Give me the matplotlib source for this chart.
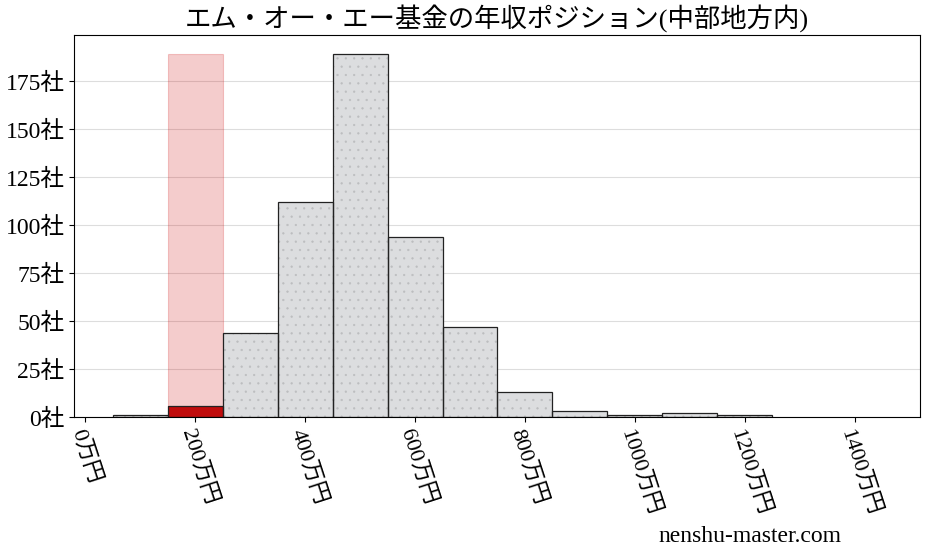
import numpy as np
import matplotlib
matplotlib.use('Agg')
import matplotlib.pyplot as plt

plt.rcParams['font.family'] = ['Liberation Serif', 'Noto Sans CJK JP', 'DejaVu Sans']
plt.rcParams['hatch.linewidth'] = 0.4

# bins of 100万円 centred on each 100
bin_left = [50, 150, 250, 350, 450, 550, 650, 750, 850, 950, 1050, 1150]
counts = [1, 6, 44, 112, 189, 94, 47, 13, 3, 1, 2, 1]
hl_index = 1  # the company's bin
xticks = [0, 200, 400, 600, 800, 1000, 1200, 1400]
yticks = [0, 25, 50, 75, 100, 125, 150, 175]
title = 'エム・オー・エー基金の年収ポジション(中部地方内)'

fig = plt.figure(figsize=(9.28, 5.57), dpi=100)
ax = fig.add_axes([0.080, 0.251, 0.911, 0.686])

# faint dotted grey fill, then black outline on top
ax.bar(bin_left, counts, width=100, align='edge', color='#dcdddf',
       edgecolor='#bcbdbf', linewidth=0, hatch='..', zorder=2)
ax.bar(bin_left[hl_index], counts[hl_index], width=100, align='edge',
       color='#c00c0c', linewidth=0, zorder=2.5)
ax.bar(bin_left, counts, width=100, align='edge', fill=False,
       edgecolor='#222222', linewidth=0.9, zorder=3)
ax.bar(bin_left[hl_index], max(counts), width=100, align='edge',
       color='#cc0000', alpha=0.2, edgecolor='#cc0000', linewidth=0.8, zorder=1)

ax.set_xlim(-20, 1518)
ax.set_ylim(0, 199)
ax.set_xticks(xticks)
ax.set_xticklabels([f'{v}万円' for v in xticks], rotation=-72, ha='left',
                   rotation_mode='anchor', fontsize=16)
ax.set_yticks(yticks)
ax.set_yticklabels([f'{v}社' for v in yticks], fontsize=17)
ax.grid(axis='y', color='#dddddd', linewidth=0.8, zorder=0)
ax.set_axisbelow(True)
ax.set_title(title, fontsize=19, pad=6)

fig.text(0.808, 0.036, 'nenshu-master.com', fontsize=17, ha='center', va='center')

fig.savefig('out.png', dpi=100)
